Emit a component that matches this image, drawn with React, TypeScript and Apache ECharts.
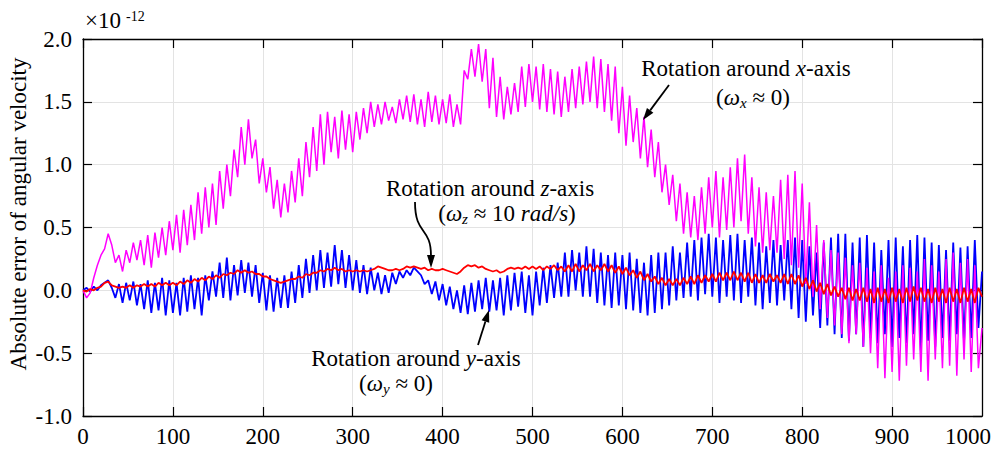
import React, { useEffect, useRef } from 'react';
import * as echarts from 'echarts';

// sample spacing along the x axis (time steps)
const STEP = 4;

// Absolute error of angular velocity (×10^-12), read every 4 steps (25 values per 100 steps)
const omegaX = [
  0.0, -0.06, -0.02, 0.1, 0.2, 0.28, 0.33, 0.45, 0.36, 0.22, 0.28, 0.15, 0.32, 0.22, 0.38, 0.24, 0.4, 0.2, 0.44, 0.18, 0.46, 0.26, 0.5, 0.28, 0.55,
  0.32, 0.6, 0.3, 0.64, 0.36, 0.68, 0.4, 0.78, 0.45, 0.82, 0.5, 0.85, 0.52, 0.95, 0.65, 1.0, 0.75, 1.12, 0.9, 1.3, 1.0, 1.36, 1.05, 1.2, 0.85,
  1.05, 0.78, 0.98, 0.65, 0.88, 0.58, 0.85, 0.62, 0.95, 0.7, 1.05, 0.75, 1.18, 0.9, 1.3, 0.95, 1.4, 1.0, 1.42, 1.1, 1.38, 1.05, 1.43, 1.12, 1.4,
  1.1, 1.42, 1.2, 1.45, 1.25, 1.5, 1.3, 1.48, 1.32, 1.5, 1.35, 1.46, 1.33, 1.52, 1.36, 1.55, 1.34, 1.56, 1.32, 1.52, 1.3, 1.58, 1.34, 1.55, 1.32,
  1.52, 1.33, 1.56, 1.3, 1.48, 1.32, 1.75, 1.68, 1.92, 1.7, 1.96, 1.66, 1.92, 1.45, 1.85, 1.38, 1.7, 1.36, 1.62, 1.4, 1.65, 1.42, 1.78, 1.46, 1.8,
  1.5, 1.78, 1.44, 1.8, 1.42, 1.76, 1.4, 1.74, 1.38, 1.7, 1.42, 1.76, 1.45, 1.78, 1.48, 1.82, 1.5, 1.86, 1.45, 1.84, 1.42, 1.8, 1.35, 1.78, 1.25,
  1.62, 1.15, 1.55, 1.18, 1.45, 1.05, 1.38, 0.98, 1.28, 0.9, 1.18, 0.78, 1.0, 0.68, 0.92, 0.55, 0.85, 0.45, 0.78, 0.42, 0.75, 0.4, 0.82, 0.45, 0.9,
  0.5, 0.95, 0.42, 0.9, 0.48, 0.98, 0.5, 1.05, 0.55, 1.08, 0.45, 0.9, 0.35, 0.82, 0.3, 0.78, 0.32, 0.75, 0.3, 0.88, 0.25, 0.92, 0.2, 0.95, 0.18,
  0.85, 0.05, 0.7, -0.05, 0.52, -0.15, 0.4, -0.22, 0.32, -0.28, 0.3, -0.35, 0.26, -0.42, 0.2, -0.35, 0.22, -0.45, 0.18, -0.5, 0.15, -0.62, 0.2, -0.7, 0.1,
  -0.65, 0.15, -0.72, 0.2, -0.6, 0.18, -0.55, 0.15, -0.65, 0.25, -0.72, 0.2, -0.55, 0.15, -0.62, 0.25, -0.6, 0.3, -0.68, 0.22, -0.55, 0.25, -0.65, 0.2, -0.62,
  -0.3,
];

const omegaY = [
  0.0, 0.02, -0.01, 0.03, 0.0, 0.04, 0.06, 0.08, 0.02, -0.06, 0.05, -0.1, 0.06, -0.08, 0.07, -0.12, 0.05, -0.15, 0.08, -0.18, 0.06, -0.16, 0.1, -0.2, 0.08,
  -0.18, 0.06, -0.2, 0.1, -0.17, 0.12, -0.15, 0.1, -0.2, 0.12, -0.08, 0.15, -0.05, 0.22, -0.06, 0.26, -0.08, 0.2, -0.04, 0.24, -0.02, 0.22, -0.05, 0.2, -0.1,
  0.14, -0.16, 0.12, -0.17, 0.1, -0.14, 0.12, -0.14, 0.15, -0.1, 0.2, -0.06, 0.25, -0.02, 0.28, 0.0, 0.32, 0.02, 0.3, 0.03, 0.36, 0.05, 0.32, 0.02, 0.28,
  0.0, 0.24, -0.02, 0.2, -0.03, 0.18, 0.0, 0.14, -0.03, 0.12, -0.02, 0.14, 0.05, 0.15, 0.1, 0.16, 0.12, 0.18, 0.15, 0.12, 0.05, 0.08, -0.03, 0.07, -0.08,
  0.05, -0.12, 0.03, -0.15, 0.0, -0.18, 0.04, -0.19, 0.06, -0.17, 0.08, -0.15, 0.1, -0.17, 0.08, -0.16, 0.1, -0.2, 0.12, -0.16, 0.14, -0.13, 0.15, -0.18, 0.12,
  -0.2, 0.15, -0.12, 0.18, -0.1, 0.2, -0.06, 0.22, -0.05, 0.3, -0.05, 0.32, 0.0, 0.3, -0.05, 0.35, -0.05, 0.33, -0.1, 0.3, -0.12, 0.28, -0.14, 0.3, -0.12,
  0.28, -0.15, 0.3, -0.16, 0.25, -0.18, 0.22, -0.2, 0.28, -0.18, 0.3, -0.15, 0.3, -0.12, 0.35, -0.08, 0.3, -0.06, 0.38, -0.05, 0.4, -0.08, 0.42, -0.03, 0.45,
  -0.05, 0.42, -0.1, 0.4, -0.05, 0.44, -0.08, 0.45, -0.1, 0.4, -0.05, 0.42, -0.12, 0.38, -0.15, 0.35, -0.1, 0.4, -0.12, 0.36, -0.08, 0.4, -0.15, 0.42, -0.22,
  0.4, -0.25, 0.35, -0.2, 0.3, -0.3, 0.38, -0.28, 0.42, -0.35, 0.45, -0.38, 0.45, -0.4, 0.38, -0.35, 0.42, -0.45, 0.44, -0.38, 0.38, -0.42, 0.32, -0.35, 0.4,
  -0.45, 0.42, -0.38, 0.35, -0.42, 0.4, -0.35, 0.44, -0.48, 0.42, -0.4, 0.38, -0.45, 0.36, -0.38, 0.32, -0.4, 0.38, -0.35, 0.34, -0.42, 0.35, -0.38, 0.4, -0.3,
  0.15,
];

const omegaZ = [
  0.0, -0.01, 0.01, 0.0, 0.02, 0.03, 0.06, 0.07, 0.04, 0.03, 0.02, 0.03, 0.02, 0.04, 0.02, 0.04, 0.03, 0.05, 0.03, 0.05, 0.03, 0.06, 0.04, 0.06, 0.04,
  0.06, 0.04, 0.07, 0.05, 0.08, 0.06, 0.09, 0.07, 0.1, 0.08, 0.11, 0.09, 0.12, 0.1, 0.13, 0.12, 0.14, 0.13, 0.16, 0.14, 0.16, 0.14, 0.15, 0.13, 0.13,
  0.11, 0.11, 0.09, 0.08, 0.07, 0.06, 0.07, 0.08, 0.09, 0.09, 0.11, 0.1, 0.13, 0.12, 0.14, 0.14, 0.16, 0.15, 0.17, 0.16, 0.18, 0.16, 0.17, 0.15, 0.16,
  0.15, 0.16, 0.15, 0.16, 0.15, 0.16, 0.17, 0.19, 0.18, 0.17, 0.16, 0.16, 0.17, 0.16, 0.17, 0.19, 0.18, 0.19, 0.18, 0.17, 0.18, 0.16, 0.17, 0.16, 0.16,
  0.17, 0.16, 0.15, 0.14, 0.13, 0.15, 0.18, 0.2, 0.19, 0.2, 0.18, 0.19, 0.17, 0.16, 0.15, 0.16, 0.14, 0.15, 0.17, 0.18, 0.17, 0.18, 0.17, 0.19, 0.17,
  0.19, 0.17, 0.19, 0.16, 0.19, 0.17, 0.2, 0.16, 0.19, 0.15, 0.2, 0.15, 0.21, 0.15, 0.2, 0.16, 0.21, 0.15, 0.2, 0.16, 0.21, 0.15, 0.2, 0.14, 0.19,
  0.13, 0.18, 0.12, 0.16, 0.1, 0.15, 0.08, 0.13, 0.07, 0.11, 0.05, 0.1, 0.04, 0.09, 0.04, 0.09, 0.04, 0.1, 0.05, 0.11, 0.05, 0.12, 0.06, 0.12, 0.07,
  0.13, 0.07, 0.14, 0.08, 0.14, 0.08, 0.15, 0.08, 0.14, 0.07, 0.14, 0.06, 0.13, 0.06, 0.12, 0.06, 0.13, 0.07, 0.12, 0.06, 0.13, 0.05, 0.13, 0.05, 0.12,
  0.03, 0.1, 0.01, 0.08, -0.01, 0.06, -0.03, 0.05, -0.04, 0.03, -0.05, 0.02, -0.07, 0.02, -0.08, 0.01, -0.08, 0.02, -0.09, 0.01, -0.1, 0.02, -0.09, 0.01, -0.1,
  0.02, -0.09, 0.01, -0.1, 0.02, -0.09, 0.03, -0.08, 0.02, -0.09, 0.01, -0.1, 0.02, -0.09, 0.01, -0.1, 0.02, -0.09, 0.01, -0.1, 0.02, -0.09, 0.01, -0.1, 0.02,
  -0.05,
];

const X_MIN = 0;
const X_MAX = 1000;
const X_INTERVAL = 100;
const Y_MIN = -1.0;
const Y_MAX = 2.0;
const Y_INTERVAL = 0.5;

const Y_TITLE = 'Absolute error of angular velocity';

const SERIF = 'Liberation Serif';
const FS = 23;
const SUB_FS = 15;

function toPairs(arr: number[]) {
  return arr.map((v, i) => [i * STEP, v]);
}

type Piece = { t: string; italic?: boolean; sub?: boolean };

let measureCtx: CanvasRenderingContext2D | null = null;
function measure(t: string, size: number, italic: boolean) {
  if (!measureCtx) measureCtx = document.createElement('canvas').getContext('2d');
  if (!measureCtx) return t.length * size * 0.45;
  measureCtx.font = `${italic ? 'italic ' : ''}${size}px ${SERIF}`;
  return measureCtx.measureText(t).width;
}

// a centred line of plain text pieces (normal / italic / subscript), each its own text element
function textLine(cx: number, cy: number, pieces: Piece[]) {
  const widths = pieces.map((p) => measure(p.t, p.sub ? SUB_FS : FS, !!p.italic || !!p.sub));
  const total = widths.reduce((a, b) => a + b, 0);
  let x = cx - total / 2;
  return pieces.map((p, i) => {
    const el = {
      type: 'text',
      x,
      y: p.sub ? cy + 6 : cy,
      z: 100,
      style: {
        text: p.t,
        align: 'left',
        verticalAlign: 'middle',
        fill: '#000',
        fontFamily: SERIF,
        fontSize: p.sub ? SUB_FS : FS,
        fontStyle: p.italic || p.sub ? 'italic' : 'normal',
      },
    };
    x += widths[i];
    return el;
  });
}

function arrow(x1: number, y1: number, x2: number, y2: number) {
  const dx = x2 - x1;
  const dy = y2 - y1;
  const len = Math.sqrt(dx * dx + dy * dy);
  const ux = dx / len;
  const uy = dy / len;
  const hl = 12;
  const hw = 4;
  const bx = x2 - ux * hl;
  const by = y2 - uy * hl;
  return [
    { type: 'line', z: 100, shape: { x1, y1, x2: bx, y2: by }, style: { stroke: '#000', lineWidth: 1.8 } },
    {
      type: 'polygon',
      z: 100,
      shape: { points: [[x2, y2], [bx - uy * hw, by + ux * hw], [bx + uy * hw, by - ux * hw]] },
      style: { fill: '#000' },
    },
  ];
}

export default function App() {
  const ref = useRef<HTMLDivElement>(null);

  useEffect(() => {
    const chart = echarts.init(ref.current!, null, { renderer: 'svg' });

    const axisLineStyle = { color: '#000', width: 1.3 };
    const tickStyle = { color: '#000', width: 1.2 };

    const option: any = {
      animation: false,
      grid: { left: 83, right: 14, top: 39, bottom: 35 },
      xAxis: [
        {
          type: 'value',
          min: X_MIN,
          max: X_MAX,
          interval: X_INTERVAL,
          position: 'bottom',
          axisLine: { show: true, onZero: false, lineStyle: axisLineStyle },
          axisTick: { show: true, inside: true, length: 9, lineStyle: tickStyle },
          axisLabel: {
            color: '#000',
            fontFamily: SERIF,
            fontSize: FS,
            margin: 9,
            showMaxLabel: false,
          },
          splitLine: { show: true, lineStyle: { color: '#e3e3e3', width: 1 } },
        },
        {
          type: 'value',
          min: X_MIN,
          max: X_MAX,
          interval: X_INTERVAL,
          position: 'top',
          axisLine: { show: true, onZero: false, lineStyle: axisLineStyle },
          axisTick: { show: true, inside: true, length: 9, lineStyle: tickStyle },
          axisLabel: { show: false },
          splitLine: { show: false },
        },
      ],
      yAxis: [
        {
          type: 'value',
          min: Y_MIN,
          max: Y_MAX,
          interval: Y_INTERVAL,
          position: 'left',
          axisLine: { show: true, onZero: false, lineStyle: axisLineStyle },
          axisTick: { show: true, inside: true, length: 9, lineStyle: tickStyle },
          axisLabel: {
            color: '#000',
            fontFamily: SERIF,
            fontSize: FS,
            margin: 11,
            formatter: (v: number) => v.toFixed(1),
          },
          splitLine: { show: true, lineStyle: { color: '#e3e3e3', width: 1 } },
        },
        {
          type: 'value',
          min: Y_MIN,
          max: Y_MAX,
          interval: Y_INTERVAL,
          position: 'right',
          axisLine: { show: true, onZero: false, lineStyle: axisLineStyle },
          axisTick: { show: true, inside: true, length: 9, lineStyle: tickStyle },
          axisLabel: { show: false },
          splitLine: { show: false },
        },
      ],
      series: [
        {
          name: 'omega_y',
          type: 'line',
          data: toPairs(omegaY),
          showSymbol: false,
          lineStyle: { color: '#0000ff', width: 1.8 },
          z: 2,
        },
        {
          name: 'omega_x',
          type: 'line',
          data: toPairs(omegaX),
          showSymbol: false,
          lineStyle: { color: '#ff00ff', width: 1.5 },
          z: 3,
        },
        {
          name: 'omega_z',
          type: 'line',
          data: toPairs(omegaZ),
          showSymbol: false,
          lineStyle: { color: '#ff0000', width: 1.8 },
          z: 4,
        },
      ],
      graphic: [
        {
          type: 'text',
          x: 18,
          y: 214,
          rotation: Math.PI / 2,
          style: {
            text: Y_TITLE,
            align: 'center',
            verticalAlign: 'middle',
            fill: '#000',
            fontFamily: SERIF,
            fontSize: FS,
          },
        },
        {
          type: 'text',
          x: 968,
          y: 425,
          style: { text: String(X_MAX), align: 'center', verticalAlign: 'top', fill: '#000', fontFamily: SERIF, fontSize: FS },
        },
        {
          type: 'text',
          x: 85,
          y: 20,
          style: { text: '×10', align: 'left', verticalAlign: 'middle', fill: '#000', fontFamily: SERIF, fontSize: FS },
        },
        {
          type: 'text',
          x: 126,
          y: 16,
          style: { text: '-12', align: 'left', verticalAlign: 'middle', fill: '#000', fontFamily: SERIF, fontSize: 14 },
        },
        ...textLine(746, 68, [{ t: 'Rotation around ' }, { t: 'x', italic: true }, { t: '-axis' }]),
        ...textLine(753, 97, [{ t: '(' }, { t: 'ω', italic: true }, { t: 'x', sub: true }, { t: ' ≈ 0)' }]),
        ...arrow(669, 85, 643, 120),
        ...textLine(490, 188, [{ t: 'Rotation around ' }, { t: 'z', italic: true }, { t: '-axis' }]),
        ...textLine(507, 213, [{ t: '(' }, { t: 'ω', italic: true }, { t: 'z', sub: true }, { t: ' ≈ 10 ' }, { t: 'rad/s', italic: true }, { t: ')' }]),
        {
          type: 'bezierCurve',
          z: 100,
          shape: { x1: 415, y1: 202, cpx1: 415, cpy1: 236, cpx2: 431, cpy2: 226, x2: 431, y2: 256 },
          style: { stroke: '#000', lineWidth: 1.8, fill: 'none' },
        },
        {
          type: 'polygon',
          z: 100,
          shape: { points: [[431, 268], [427, 255], [435, 255]] },
          style: { fill: '#000' },
        },
        ...textLine(416, 358, [{ t: 'Rotation around ' }, { t: 'y', italic: true }, { t: '-axis' }]),
        ...textLine(396, 383, [{ t: '(' }, { t: 'ω', italic: true }, { t: 'y', sub: true }, { t: ' ≈ 0)' }]),
        ...arrow(478, 345, 489, 310),
      ],
    };

    chart.setOption(option);
    return () => chart.dispose();
  }, []);

  return (
    <div
      ref={ref}
      style={{ position: 'fixed', left: 0, top: 0, width: 996, height: 451, background: '#fff' }}
    />
  );
}
